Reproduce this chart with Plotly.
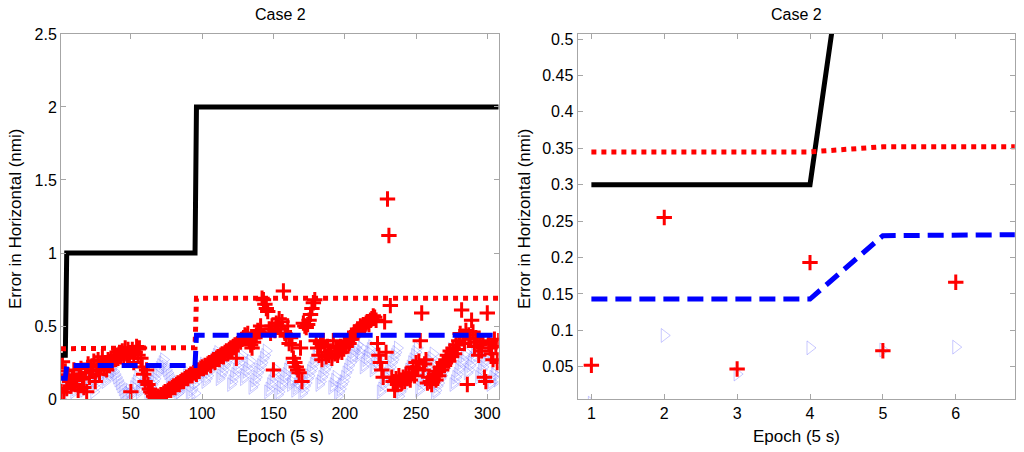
import plotly.graph_objects as go
from plotly.subplots import make_subplots

# Limites de alerta (puntos de quiebre por epoca)
limit_x = [1, 4, 5, 95, 96, 308]
hal = [0.3, 0.3, 1.0, 1.0, 2.0, 2.0]          # negro solido
pl_red = [0.345, 0.345, 0.352, 0.352, 0.69, 0.69]   # rojo punteado
pl_blue = [0.143, 0.143, 0.23, 0.23, 0.438, 0.438]  # azul rayado

# Errores por epoca (1..308)
err_red = [
    0.052, 0.255, 0.047, 0.193, 0.072, 0.166, 0.12, 0.09, 0.15, 0.2,
    0.1, 0.13, 0.06, 0.17, 0.21, 0.14, 0.08, 0.18, 0.05, 0.24,
    0.15, 0.22, 0.19, 0.26, 0.12, 0.2, 0.27, 0.17, 0.23, 0.29,
    0.21, 0.25, 0.2, 0.27, 0.23, 0.28, 0.25, 0.29, 0.27, 0.3,
    0.28, 0.32, 0.29, 0.33, 0.3, 0.35, 0.31, 0.34, 0.28, 0.05,
    0.34, 0.25, 0.32, 0.36, 0.3, 0.35, 0.28, 0.22, 0.17, 0.12,
    0.2, 0.1, 0.07, 0.05, 0.04, 0.02, 0.01, 0.0, 0.02, 0.01,
    0.03, 0.02, 0.04, 0.05, 0.04, 0.06, 0.07, 0.06, 0.08, 0.09,
    0.08, 0.1, 0.11, 0.1, 0.12, 0.13, 0.12, 0.14, 0.15, 0.14,
    0.16, 0.17, 0.16, 0.18, 0.19, 0.17, 0.2, 0.19, 0.21, 0.22,
    0.21, 0.23, 0.22, 0.24, 0.25, 0.23, 0.26, 0.27, 0.25, 0.28,
    0.29, 0.27, 0.3, 0.31, 0.29, 0.32, 0.33, 0.31, 0.34, 0.35,
    0.33, 0.36, 0.37, 0.28, 0.38, 0.4, 0.39, 0.41, 0.42, 0.44,
    0.43, 0.45, 0.41, 0.37, 0.35, 0.39, 0.42, 0.44, 0.47, 0.46,
    0.5, 0.69, 0.68, 0.65, 0.62, 0.6, 0.48, 0.45, 0.5, 0.2,
    0.47, 0.52, 0.5, 0.55, 0.48, 0.53, 0.74, 0.45, 0.43, 0.5,
    0.38, 0.42, 0.37, 0.28, 0.25, 0.22, 0.2, 0.18, 0.35, 0.12,
    0.52, 0.5, 0.49, 0.51, 0.54, 0.58, 0.62, 0.66, 0.68, 0.4,
    0.35, 0.3, 0.38, 0.27, 0.4, 0.32, 0.29, 0.36, 0.3, 0.33,
    0.28, 0.4, 0.31, 0.35, 0.3, 0.33, 0.36, 0.32, 0.35, 0.38,
    0.36, 0.4, 0.38, 0.42, 0.41, 0.44, 0.46, 0.45, 0.48, 0.47,
    0.5, 0.49, 0.51, 0.5, 0.52, 0.53, 0.51, 0.54, 0.55, 0.57,
    0.56, 0.54, 0.38, 0.3, 0.25, 0.2, 0.15, 0.53, 0.32, 1.37,
    1.12, 0.64, 0.15, 0.12, 0.06, 0.14, 0.1, 0.16, 0.13, 0.11,
    0.15, 0.12, 0.17, 0.14, 0.16, 0.13, 0.18, 0.22, 0.16, 0.25,
    0.21, 0.26, 0.4, 0.59, 0.2, 0.24, 0.27, 0.11, 0.15, 0.12,
    0.1, 0.14, 0.17, 0.13, 0.19, 0.16, 0.22, 0.2, 0.25, 0.23,
    0.27, 0.3, 0.26, 0.33, 0.29, 0.35, 0.31, 0.37, 0.34, 0.4,
    0.45, 0.61, 0.43, 0.38, 0.47, 0.1, 0.44, 0.41, 0.54, 0.46,
    0.36, 0.42, 0.39, 0.3, 0.37, 0.33, 0.4, 0.15, 0.12, 0.59,
    0.38, 0.35, 0.31, 0.27, 0.41, 0.36, 0.25, 0.4,
]

err_blue = [
    0.0, 0.093, 0.04, 0.076, 0.073, 0.077,
    0.09, 0.11, 0.13, 0.05, 0.07, 0.1, 0.12, 0.15, 0.17, 0.2,
    0.06, 0.08, 0.1, 0.13, 0.15, 0.18, 0.2, 0.05, 0.08, 0.11,
    0.14, 0.16, 0.19, 0.21, 0.24, 0.12, 0.14, 0.16, 0.18, 0.2,
    0.22, 0.19, 0.17, 0.15, 0.13, 0.11, 0.09, 0.07, 0.05, 0.03,
    0.02, 0.04, 0.06, 0.03, 0.05, 0.08, 0.1, 0.12, 0.15, 0.05,
    0.07, 0.09, 0.12, 0.14, 0.16, 0.03, 0.05, 0.08, 0.1, 0.12,
    0.14, 0.17, 0.19, 0.21, 0.23, 0.25, 0.27, 0.22, 0.2, 0.18,
    0.16, 0.14, 0.12, 0.1, 0.08, 0.06, 0.04, 0.05, 0.07, 0.09,
    0.11, 0.13, 0.16, 0.18, 0.02, 0.05, 0.07, 0.1, 0.04, 0.12,
    0.15, 0.17, 0.2, 0.22, 0.24, 0.12, 0.14, 0.16, 0.19, 0.21,
    0.23, 0.26, 0.28, 0.3, 0.32, 0.14, 0.16, 0.18, 0.2, 0.23,
    0.25, 0.27, 0.3, 0.1, 0.12, 0.15, 0.17, 0.2, 0.22, 0.25,
    0.28, 0.3, 0.14, 0.16, 0.19, 0.21, 0.24, 0.26, 0.08, 0.1,
    0.13, 0.15, 0.18, 0.2, 0.23, 0.25, 0.28, 0.3, 0.33, 0.05,
    0.07, 0.1, 0.12, 0.15, 0.17, 0.2, 0.03, 0.05, 0.08, 0.1,
    0.12, 0.15, 0.17, 0.2, 0.22, 0.1, 0.12, 0.14, 0.06, 0.08,
    0.1, 0.12, 0.15, 0.04, 0.06, 0.09, 0.11, 0.14, 0.16, 0.19,
    0.21, 0.24, 0.26, 0.29, 0.31, 0.1, 0.12, 0.15, 0.17, 0.2,
    0.22, 0.25, 0.27, 0.3, 0.08, 0.1, 0.13, 0.15, 0.02, 0.05,
    0.07, 0.1, 0.12, 0.15, 0.18, 0.2, 0.23, 0.25, 0.28, 0.3,
    0.33, 0.35, 0.37, 0.3, 0.32, 0.35, 0.22, 0.24, 0.27, 0.29,
    0.32, 0.34, 0.36, 0.2, 0.22, 0.25, 0.27, 0.3, 0.05, 0.07,
    0.1, 0.12, 0.15, 0.17, 0.2, 0.22, 0.25, 0.27, 0.3, 0.32,
    0.35, 0.02, 0.05, 0.07, 0.1, 0.12, 0.15, 0.17, 0.2, 0.22,
    0.25, 0.27, 0.3, 0.32, 0.35, 0.06, 0.08, 0.11, 0.13, 0.16,
    0.18, 0.21, 0.23, 0.26, 0.28, 0.31, 0.04, 0.06, 0.09, 0.11,
    0.14, 0.16, 0.19, 0.21, 0.24, 0.26, 0.29, 0.31, 0.34, 0.1,
    0.12, 0.15, 0.17, 0.2, 0.22, 0.25, 0.27, 0.3, 0.32, 0.18,
    0.2, 0.23, 0.25, 0.28, 0.3, 0.33, 0.35, 0.15, 0.17, 0.2,
    0.22, 0.25, 0.27, 0.3, 0.32, 0.1, 0.12, 0.15, 0.17, 0.2,
    0.13, 0.15,
]
epochs = list(range(1, len(err_red) + 1))

W, H = 1024, 452

fig = make_subplots(rows=1, cols=2)

for col in (1, 2):
    fig.add_trace(go.Scatter(x=epochs, y=err_blue, mode="markers",
                             marker=dict(symbol="triangle-right-open", size=12,
                                         color="rgba(100,100,255,0.45)",
                                         line=dict(width=0.8))),
                  row=1, col=col)
    fig.add_trace(go.Scatter(x=epochs, y=err_red, mode="markers",
                             marker=dict(symbol="cross-thin-open", size=11,
                                         color="red", line=dict(width=3, color="red"))),
                  row=1, col=col)
    fig.add_trace(go.Scatter(x=limit_x, y=hal, mode="lines",
                             line=dict(color="black", width=5)),
                  row=1, col=col)
    fig.add_trace(go.Scatter(x=limit_x, y=pl_red, mode="lines",
                             line=dict(color="red", width=5, dash="dot")),
                  row=1, col=col)
    fig.add_trace(go.Scatter(x=limit_x, y=pl_blue, mode="lines",
                             line=dict(color="blue", width=5, dash="16px,8px")),
                  row=1, col=col)

axis_style = dict(showline=True, linecolor="#a6a6a6", linewidth=1, mirror="ticks",
                  ticks="inside", ticklen=5, tickcolor="#a6a6a6", showgrid=False,
                  zeroline=False, automargin=False,
                  tickfont=dict(size=16, color="black"))

fig.update_xaxes(axis_style)
fig.update_yaxes(axis_style)

fig.update_xaxes(range=[1, 308], tickvals=[50, 100, 150, 200, 250, 300],
                 domain=[0.0596, 0.487], row=1, col=1)
fig.update_yaxes(range=[0, 2.5], dtick=0.5, domain=[0.117, 0.925], row=1, col=1)
fig.update_xaxes(range=[0.81, 6.81], tickvals=[1, 2, 3, 4, 5, 6],
                 domain=[0.564, 0.991], row=1, col=2)
fig.update_yaxes(range=[0.0056, 0.507], dtick=0.05, tick0=0,
                 domain=[0.117, 0.925], row=1, col=2)

# textos (titulos y ejes) colocados en pixeles
texts = [
    ("Case 2", 280, 14, 0, 16),
    ("Case 2", 796, 14, 0, 16),
    ("Epoch (5 s)", 280, 436, 0, 17),
    ("Epoch (5 s)", 796, 436, 0, 17),
    ("Error in Horizontal (nmi)", 15, 219, -90, 17),
    ("Error in Horizontal (nmi)", 524, 219, -90, 17),
]
for txt, px, py, ang, fs in texts:
    fig.add_annotation(text=txt, x=px / W, y=1 - py / H, xref="paper", yref="paper",
                       xanchor="center", yanchor="middle", textangle=ang,
                       showarrow=False, font=dict(size=fs, color="black"))

fig.update_layout(width=W, height=H, showlegend=False,
                  paper_bgcolor="white", plot_bgcolor="white",
                  margin=dict(l=0, r=0, t=0, b=0),
                  font=dict(family="Liberation Sans, Arial", size=16, color="black"))

fig.write_html("out.html", config={"displayModeBar": False},
               post_script="document.body.style.margin='0';")
